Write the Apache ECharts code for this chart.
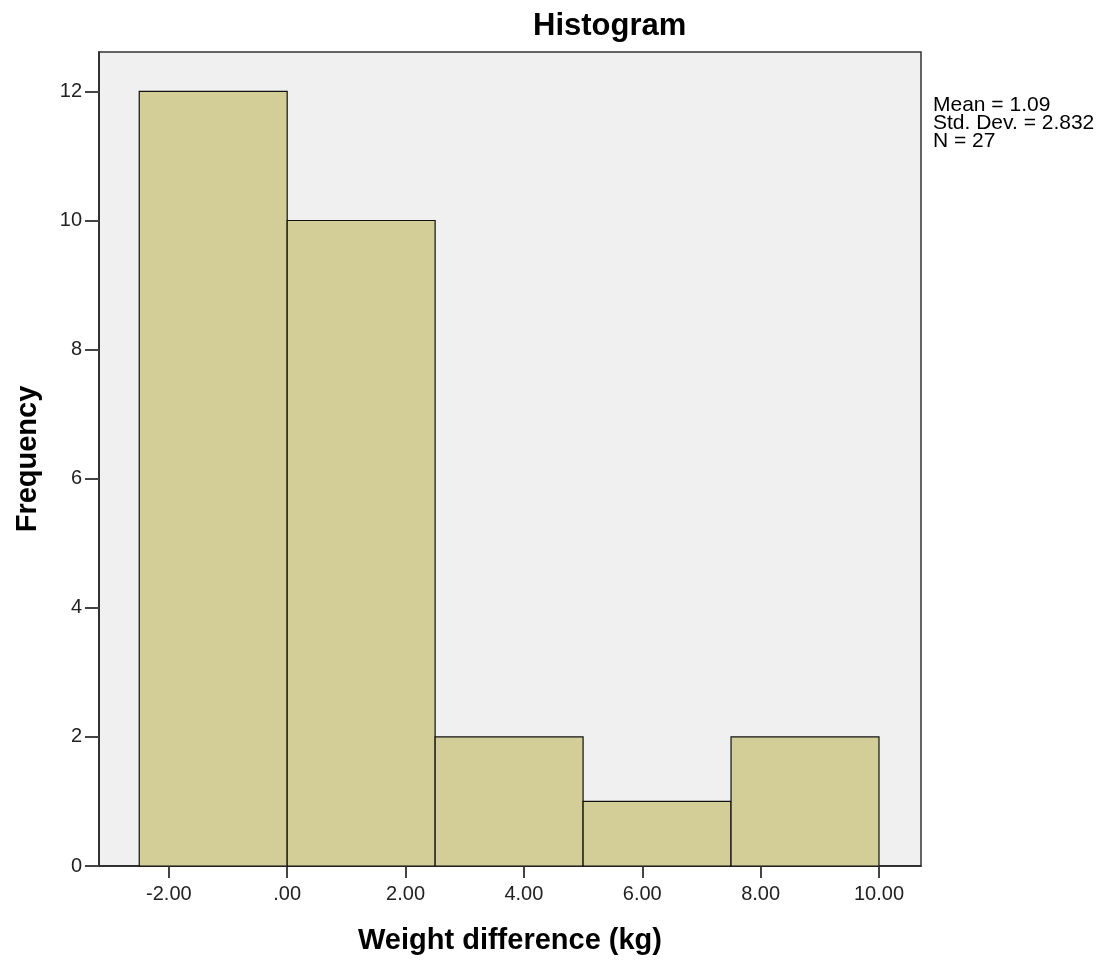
<!DOCTYPE html>
<html>
    <head>
        <meta charset="utf-8">
        <title>Histogram</title>
        <script src="https://cdn.jsdelivr.net/npm/echarts@6/dist/echarts.min.js"></script>
        <style>
            html, body { margin: 0; padding: 0; background: #fff; }
            #chart1 { width: 1106px; height: 960px; }
        </style>
    </head>
    <body>
        <div id="chart1"></div>
    </body>
    <script type="text/javascript">
        // 直方图数据
        var binStart = [-2.5, 0, 2.5, 5, 7.5];
        var binEnd = [0, 2.5, 5, 7.5, 10];
        var counts = [12, 10, 2, 1, 2];
        var xTicks = [-2, 0, 2, 4, 6, 8, 10];
        var yTicks = [0, 2, 4, 6, 8, 10, 12];
        var statLines = ['Mean = 1.09', 'Std. Dev. = 2.832', 'N = 27'];

        var bars = binStart.map(function (s, i) { return [s, binEnd[i], counts[i]]; });

        var myChart1 = echarts.init(document.getElementById('chart1'));

        myChart1.setOption({
            animation: false,
            textStyle: { fontFamily: 'Liberation Sans, Arial, sans-serif' },
            title: {
                text: 'Histogram',
                left: 528,
                top: 6,
                textStyle: { fontSize: 31, fontWeight: 'bold', color: '#000' }
            },
            graphic: [{
                type: 'text',
                left: 933,
                top: 95,
                style: {
                    text: statLines.join('\n'),
                    font: '21px "Liberation Sans", Arial, sans-serif',
                    lineHeight: 18,
                    fill: '#000'
                }
            }],
            grid: {
                left: 99, right: 185, top: 52, bottom: 92,
                show: true,
                backgroundColor: '#f0f0f0',
                borderColor: '#333',
                borderWidth: 1.5
            },
            xAxis: {
                type: 'value',
                min: -3.18,
                max: 10.71,
                name: 'Weight difference (kg)',
                nameLocation: 'middle',
                nameGap: 60,
                nameTextStyle: { fontSize: 29, fontWeight: 'bold', color: '#000' },
                axisLine: { show: true, onZero: false, lineStyle: { color: '#222', width: 1.5 } },
                axisTick: { show: true, customValues: xTicks, length: 12, lineStyle: { color: '#444', width: 2 } },
                axisLabel: {
                    customValues: xTicks,
                    fontSize: 20,
                    color: '#222',
                    margin: 18,
                    formatter: function (v) { return v === 0 ? '.00' : v.toFixed(2); }
                },
                splitLine: { show: false }
            },
            yAxis: {
                type: 'value',
                min: 0,
                max: 12.61,
                name: 'Frequency',
                nameLocation: 'middle',
                nameGap: 57,
                nameTextStyle: { fontSize: 29, fontWeight: 'bold', color: '#000' },
                axisLine: { show: true, onZero: false, lineStyle: { color: '#222', width: 1.5 } },
                axisTick: { show: true, customValues: yTicks, length: 14, lineStyle: { color: '#444', width: 2 } },
                axisLabel: { customValues: yTicks, fontSize: 20, color: '#222', margin: 17 },
                splitLine: { show: false }
            },
            series: [{
                type: 'custom',
                data: bars,
                encode: { x: [0, 1], y: 2 },
                renderItem: function (params, api) {
                    var p0 = api.coord([api.value(0), api.value(2)]);
                    var p1 = api.coord([api.value(1), 0]);
                    return {
                        type: 'rect',
                        shape: { x: p0[0], y: p0[1], width: p1[0] - p0[0], height: p1[1] - p0[1] },
                        style: { fill: '#d3ce97', stroke: '#111', lineWidth: 1.2 }
                    };
                }
            }]
        });
    </script>
</html>
